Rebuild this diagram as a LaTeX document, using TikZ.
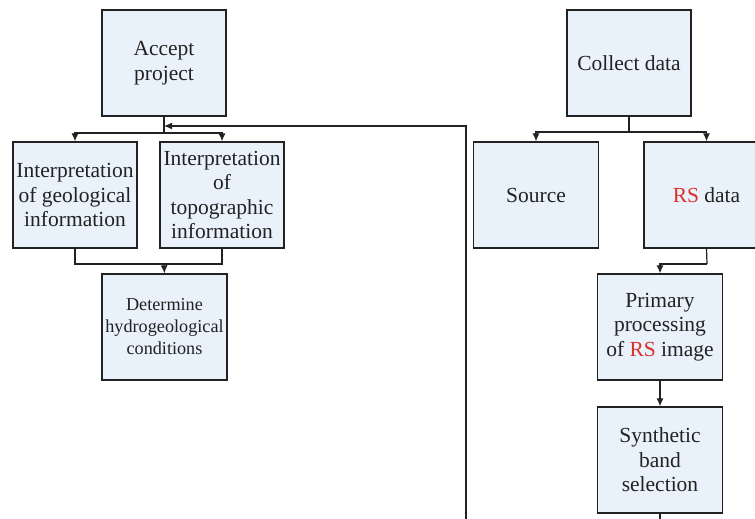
\documentclass[tikz,border=0pt]{standalone}
\usepackage{fontspec}
\setmainfont{Liberation Serif}
\usetikzlibrary{arrows.meta}
\definecolor{boxfill}{HTML}{E9F1FB}
\definecolor{boxline}{HTML}{222222}
\definecolor{rsred}{HTML}{D8322B}
\newcommand{\rsred}{\textcolor{rsred}{RS}}
\tikzset{
  box/.style={draw=boxline, line width=1.3pt, fill=boxfill, minimum width=124pt,
    minimum height=106pt, inner sep=0pt, align=center,
    font=\fontsize{21.5}{24.5}\selectfont, text=boxline},
  smallbox/.style={box, font=\fontsize{18.2}{22}\selectfont},
  conn/.style={line width=1.2pt, draw=boxline},
  arr/.style={conn, -{Latex[length=8pt,width=7pt]}}
}
\begin{document}
\begin{tikzpicture}[x=1pt,y=-1pt]
\useasboundingbox (0,0) rectangle (755,519);
% left branch
\node[box] (acc) at (164,63) {Accept\\project};
\node[box] (geo) at (75,195) {Interpretation\\of geological\\information};
\node[box] (topo) at (222,195) {Interpretation\\of\\topographic\\information};
\node[smallbox, minimum width=125pt] (det) at (164.5,327) {Determine\\hydrogeological\\conditions};
% right branch
\node[box] (col) at (629,63) {Collect data};
\node[box, minimum width=125pt] (src) at (536,195) {Source};
\node[box, minimum width=125pt] (rs) at (706.5,195) {\rsred{} data};
\node[box, minimum width=125pt] (prim) at (660,327) {Primary\\processing\\of \rsred{} image};
\node[box, minimum width=125pt] (syn) at (660,460) {Synthetic\\band\\selection};
% junctions
\coordinate (j1) at (164,133);
\coordinate (j2) at (164,264);
\coordinate (fbB) at (466,519);
\coordinate (fbT) at (164,126);
\coordinate (j3) at (629,132);
\coordinate (j4) at (707,264);
\coordinate (synB) at (660,519);
% left connectors
\draw[conn] (acc.south) -- (j1);
\draw[arr] (j1) -| (geo.north);
\draw[arr] (j1) -| (topo.north);
\draw[conn] (geo.south) |- (j2);
\draw[conn] (topo.south) |- (j2);
\draw[arr] (j2) -- (det.north);
\draw[arr] (fbB) |- (fbT);
% right connectors
\draw[conn] (col.south) -- (j3);
\draw[arr] (j3) -| (src.north);
\draw[arr] (j3) -| (rs.north);
\draw[conn] (rs.south) -- (j4);
\draw[arr] (j4) -| (prim.north);
\draw[arr] (prim.south) -- (syn.north);
\draw[conn] (syn.south) -- (synB);
\end{tikzpicture}
\end{document}
